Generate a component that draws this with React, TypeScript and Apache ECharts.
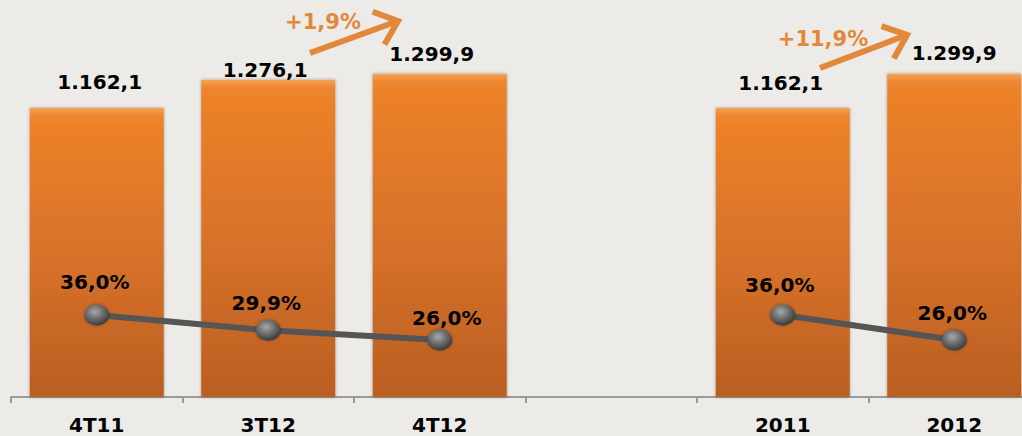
import React, { useEffect, useRef } from "react";
import * as echarts from "echarts";

const categories = ["4T11", "3T12", "4T12", "", "2011", "2012"];
const revenue: (number | string)[] = [1162.1, 1276.1, 1299.9, "-", 1162.1, 1299.9];
const margin: (number | string)[] = [36.0, 29.9, 26.0, "-", 36.0, 26.0];
const growthLabels = ["+1,9%", "+11,9%"];

const fmtNum = (v: number) => {
  const [i, d] = v.toFixed(1).split(".");
  const withDots = i.replace(/\B(?=(\d{3})+(?!\d))/g, ".");
  return `${withDots},${d}`;
};
const fmtPct = (v: number) => `${v.toFixed(1).replace(".", ",")}%`;

// label nudges (style only)
const barLabelDist = [16, 0, 10, 0, 15, 11];
const barLabelDx = [3, -3, -8, 0, -2, 0];
const lineLabelOff: [number, number][] = [
  [-2, -33],
  [-2, -27],
  [7, -22],
  [0, 0],
  [-3, -30],
  [-2, -27],
];

const ORANGE_TXT = "#E2883A";

function arrow(x1: number, y1: number, x2: number, y2: number) {
  const ang = Math.atan2(y2 - y1, x2 - x1);
  const L = 27;
  const a = (40 * Math.PI) / 180;
  const p1 = [x2 - L * Math.cos(ang - a), y2 - L * Math.sin(ang - a)];
  const p2 = [x2 - L * Math.cos(ang + a), y2 - L * Math.sin(ang + a)];
  return [
    {
      type: "line",
      shape: { x1, y1, x2: x2 - 3 * Math.cos(ang), y2: y2 - 3 * Math.sin(ang) },
      style: { stroke: ORANGE_TXT, lineWidth: 6 },
      z: 10,
    },
    {
      type: "polyline",
      shape: { points: [p1, [x2, y2], p2] },
      style: { stroke: ORANGE_TXT, lineWidth: 6, fill: null, lineJoin: "miter" },
      z: 10,
    },
  ];
}

export default function App() {
  const ref = useRef<HTMLDivElement>(null);
  useEffect(() => {
    if (!ref.current) return;
    const chart = echarts.init(ref.current, null, { renderer: "svg" });
    const font = "'DejaVu Sans', Verdana, sans-serif";
    const barGrad = new echarts.graphic.LinearGradient(0, 0, 0, 1, [
      { offset: 0, color: "#F6A45A" },
      { offset: 0.025, color: "#EE8631" },
      { offset: 0.06, color: "#EC8128" },
      { offset: 0.5, color: "#D8722A" },
      { offset: 1, color: "#BA5F22" },
    ]);
    const sphere = new echarts.graphic.RadialGradient(0.42, 0.35, 0.7, [
      { offset: 0, color: "#A8A8A8" },
      { offset: 0.5, color: "#6A6A6A" },
      { offset: 1, color: "#333333" },
    ]);
    chart.setOption({
      animation: false,
      backgroundColor: "#ECEBE8",
      grid: {
        left: 11,
        width: 1029,
        top: 24,
        bottom: 39,
        containLabel: false,
        outerBoundsMode: "none",
      },
      xAxis: {
        type: "category",
        data: categories,
        axisLine: { lineStyle: { color: "#9A9A9A", width: 2 } },
        axisTick: { show: true, length: 6, lineStyle: { color: "#9A9A9A", width: 2 } },
        axisLabel: {
          color: "#000",
          fontFamily: font,
          fontWeight: "bold",
          fontSize: 20,
          margin: 18,
        },
      },
      yAxis: [
        { type: "value", min: 0, max: 1500, show: false, splitLine: { show: false } },
        { type: "value", min: 3.2, max: 152.4, show: false, splitLine: { show: false } },
      ],
      series: [
        {
          type: "bar",
          barWidth: 134,
          data: revenue.map((v, i) => ({
            value: v,
            label: {
              distance: barLabelDist[i],
              offset: [barLabelDx[i], 0],
            },
          })),
          itemStyle: {
            color: barGrad,
            shadowBlur: 3,
            shadowColor: "rgba(0,0,0,0.35)",
            shadowOffsetX: 0,
            shadowOffsetY: 0,
          },
          label: {
            show: true,
            position: "top",
            color: "#000",
            fontFamily: font,
            fontWeight: "bold",
            fontSize: 20,
            formatter: (p: any) => fmtNum(p.value),
          },
        },
        {
          type: "line",
          yAxisIndex: 1,
          data: margin.map((v, i) => ({
            value: v,
            label: { offset: lineLabelOff[i] },
          })),
          connectNulls: false,
          lineStyle: { color: "#555555", width: 6 },
          symbol: "circle",
          symbolSize: [25, 21],
          showAllSymbol: true,
          itemStyle: {
            color: sphere,
            borderWidth: 0,
            shadowBlur: 3,
            shadowColor: "rgba(0,0,0,0.4)",
          },
          label: {
            show: true,
            position: "inside",
            color: "#000",
            fontFamily: font,
            fontWeight: "bold",
            fontSize: 20,
            formatter: (p: any) => fmtPct(p.value),
          },
          z: 5,
        },
      ],
      graphic: [
        ...arrow(310, 53, 398, 21),
        ...arrow(820, 68, 907, 35),
        {
          type: "text",
          x: 323,
          y: 22,
          style: {
            text: growthLabels[0],
            fill: ORANGE_TXT,
            font: `bold 21px ${font}`,
            align: "center",
            verticalAlign: "middle",
          },
          z: 10,
        },
        {
          type: "text",
          x: 823,
          y: 39,
          style: {
            text: growthLabels[1],
            fill: ORANGE_TXT,
            font: `bold 21px ${font}`,
            align: "center",
            verticalAlign: "middle",
          },
          z: 10,
        },
      ],
    });
    return () => chart.dispose();
  }, []);
  return (
    <div
      ref={ref}
      style={{ position: "fixed", left: 0, top: 0, width: 1022, height: 436 }}
    />
  );
}
